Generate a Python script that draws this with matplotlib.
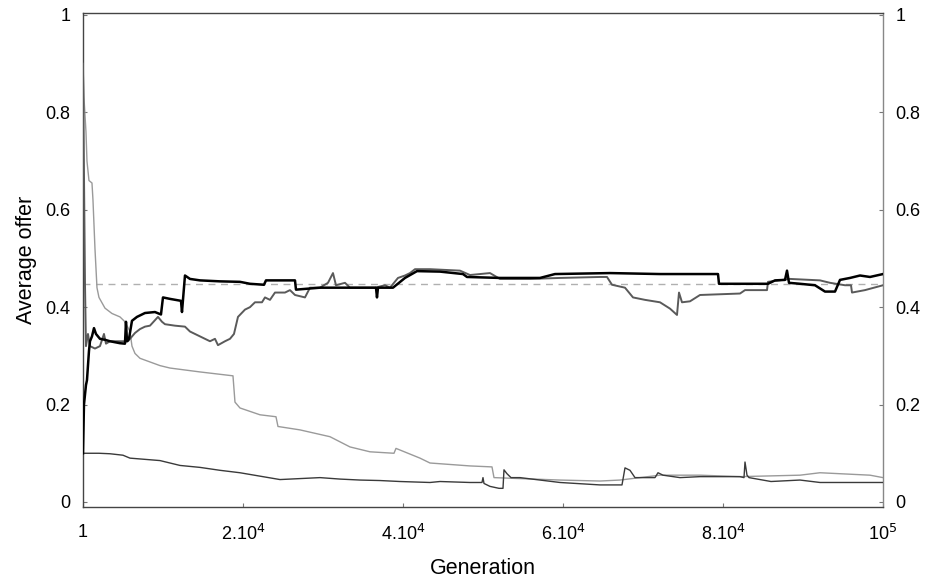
import matplotlib
matplotlib.use("Agg")
import matplotlib.pyplot as plt

plt.rcParams["font.family"] = ["Liberation Sans", "DejaVu Sans"]

# thick black line (starts at 0.1, rises towards ~0.45)
gen_black = [0, 125, 375, 500, 750, 875, 1125, 1375, 1625, 2125, 2750, 3375, 4000,
             4625, 5250, 5375, 5500, 5750, 6125, 6750, 7750, 9000, 9750, 10000,
             10875, 12250, 12375, 12750, 13375, 14625, 17125, 19625, 20875, 22625,
             22875, 26500, 26625, 29625, 33375, 36625, 36750, 36875, 38750, 40250,
             41750, 44625, 47500, 48000, 52125, 57125, 59000, 65875, 72125, 79375,
             79500, 85625, 86500, 87750, 88000, 88250, 89625, 91500, 92750, 94000,
             94625, 95875, 97125, 98375, 100000]
val_black = [0.10, 0.20, 0.24, 0.25, 0.31, 0.33, 0.34, 0.357, 0.345, 0.335, 0.333,
             0.33, 0.328, 0.326, 0.325, 0.37, 0.33, 0.335, 0.372, 0.38, 0.388, 0.39,
             0.385, 0.42, 0.417, 0.413, 0.39, 0.465, 0.458, 0.455, 0.453, 0.452,
             0.448, 0.446, 0.455, 0.455, 0.436, 0.44, 0.44, 0.44, 0.42, 0.44, 0.44,
             0.46, 0.474, 0.473, 0.468, 0.462, 0.46, 0.46, 0.468, 0.47, 0.468, 0.468,
             0.448, 0.448, 0.455, 0.456, 0.475, 0.45, 0.448, 0.445, 0.432, 0.432,
             0.456, 0.46, 0.465, 0.462, 0.468]

# dark grey line (starts at 0.9, drops, then climbs to ~0.45)
gen_dark = [0, 250, 375, 625, 875, 1500, 2125, 2625, 2875, 3375, 4625, 5625, 6500,
            7125, 7750, 8375, 9375, 9875, 10250, 11500, 12750, 13375, 14000, 14625,
            15875, 16500, 16875, 17750, 18375, 18875, 19375, 20250, 20875, 21500,
            22375, 22750, 23375, 24000, 25250, 25875, 26500, 27750, 28375, 29625,
            30625, 31250, 31625, 32750, 33375, 34625, 36500, 37750, 38375, 39375,
            40250, 40875, 41500, 43375, 47125, 48375, 50875, 52125, 55875, 59625,
            64625, 65500, 66125, 67750, 68750, 70250, 72125, 73375, 74250, 74500,
            74875, 75875, 77125, 82125, 82750, 85500, 85625, 88375, 92125, 93375,
            95250, 96000, 96125, 97750, 100000]
val_dark = [0.90, 0.45, 0.32, 0.345, 0.32, 0.315, 0.32, 0.345, 0.325, 0.33, 0.33,
            0.33, 0.347, 0.355, 0.36, 0.362, 0.38, 0.37, 0.365, 0.362, 0.36, 0.35,
            0.345, 0.34, 0.33, 0.335, 0.322, 0.33, 0.335, 0.345, 0.38, 0.395, 0.40,
            0.41, 0.41, 0.42, 0.415, 0.43, 0.43, 0.435, 0.425, 0.42, 0.44, 0.44,
            0.45, 0.47, 0.445, 0.45, 0.44, 0.44, 0.44, 0.445, 0.44, 0.46, 0.465,
            0.47, 0.478, 0.478, 0.475, 0.466, 0.47, 0.458, 0.458, 0.46, 0.462,
            0.462, 0.446, 0.44, 0.42, 0.415, 0.41, 0.397, 0.384, 0.43, 0.41, 0.412,
            0.425, 0.428, 0.435, 0.435, 0.452, 0.458, 0.455, 0.45, 0.445, 0.445,
            0.43, 0.435, 0.445]

# light grey line (starts high, decays towards ~0.05)
gen_light = [0, 125, 375, 500, 750, 1125, 1250, 1500, 1750, 2000, 2750, 3625, 4625,
             5250, 5875, 6125, 6500, 7125, 9625, 10875, 14625, 18750, 19000, 19625,
             22125, 24125, 24375, 27125, 30875, 33375, 35875, 38875, 39125, 42125,
             43375, 48375, 51125, 51375, 54625, 59625, 64625, 67125, 72125, 77125,
             82125, 89625, 92125, 95875, 98375, 100000]
val_light = [0.90, 0.83, 0.76, 0.70, 0.66, 0.655, 0.62, 0.52, 0.44, 0.42, 0.398,
             0.387, 0.38, 0.37, 0.35, 0.32, 0.305, 0.295, 0.28, 0.275, 0.267, 0.259,
             0.205, 0.193, 0.179, 0.175, 0.155, 0.148, 0.134, 0.113, 0.103, 0.10,
             0.11, 0.09, 0.08, 0.074, 0.072, 0.05, 0.048, 0.045, 0.043, 0.045,
             0.055, 0.055, 0.052, 0.055, 0.06, 0.057, 0.055, 0.05]

# thin dark line (starts at 0.1, slowly decays)
gen_low = [0, 2000, 3375, 5000, 5875, 9625, 12125, 14625, 17125, 19625, 22125,
           24625, 27125, 29625, 32125, 34625, 37125, 39625, 43375, 44625, 48375,
           49875, 50000, 50125, 50875, 52000, 52500, 52625, 53000, 53500, 54625,
           57125, 59625, 64625, 67375, 67750, 68375, 69000, 71500, 71875, 72500,
           74625, 77125, 82125, 82625, 82750, 83000, 83250, 86000, 89625, 92125,
           95875, 100000]
val_low = [0.10, 0.10, 0.099, 0.096, 0.09, 0.085, 0.075, 0.071, 0.065, 0.06, 0.053,
           0.046, 0.048, 0.05, 0.047, 0.045, 0.044, 0.042, 0.04, 0.042, 0.04, 0.04,
           0.05, 0.038, 0.032, 0.028, 0.028, 0.066, 0.058, 0.05, 0.05, 0.045, 0.04,
           0.035, 0.035, 0.07, 0.065, 0.05, 0.05, 0.06, 0.055, 0.05, 0.052, 0.052,
           0.05, 0.082, 0.055, 0.05, 0.042, 0.045, 0.04, 0.04, 0.04]

ref_level = 0.447
xticks = [0, 20000, 40000, 60000, 80000, 100000]
xticklabels = ["1", r"2.10$^{4}$", r"4.10$^{4}$", r"6.10$^{4}$", r"8.10$^{4}$", r"10$^{5}$"]
yticks = [0, 0.2, 0.4, 0.6, 0.8, 1]
yticklabels = ["0", "0.2", "0.4", "0.6", "0.8", "1"]

fig = plt.figure(figsize=(9.25, 5.81), dpi=100)
ax = fig.add_axes([0.0897, 0.1274, 0.8649, 0.8502])

ax.axhline(ref_level, color="#b0b0b0", lw=1.0, ls=(0, (5, 4)), zorder=1)
ax.plot(gen_light, val_light, color="#9a9a9a", lw=1.0, zorder=2)
ax.plot(gen_low, val_low, color="#3a3a3a", lw=1.0, zorder=3)
ax.plot(gen_dark, val_dark, color="#5a5a5a", lw=1.4, zorder=4)
ax.plot(gen_black, val_black, color="black", lw=1.8, zorder=5)

ax.set_xlim(0, 100000)
ax.set_ylim(-0.0103, 1.004)
ax.set_xticks(xticks)
ax.set_xticklabels(xticklabels)
ax.set_yticks(yticks)
ax.set_yticklabels(yticklabels)
ax.tick_params(axis="both", direction="in", length=3, width=0.8, color="#777777",
               labelsize=13, right=True, labelright=True)
ax.tick_params(axis="x", pad=12)
ax.tick_params(axis="y", pad=9)

for side in ["left", "bottom", "top"]:
    ax.spines[side].set_color("#444444")
    ax.spines[side].set_linewidth(1.0)
ax.spines["right"].set_color("#888888")
ax.spines["right"].set_linewidth(1.0)

ax.set_xlabel("Generation", fontsize=15.5, labelpad=10)
ax.set_ylabel("Average offer", fontsize=15.5, labelpad=6)

fig.savefig("out.png", dpi=100)
